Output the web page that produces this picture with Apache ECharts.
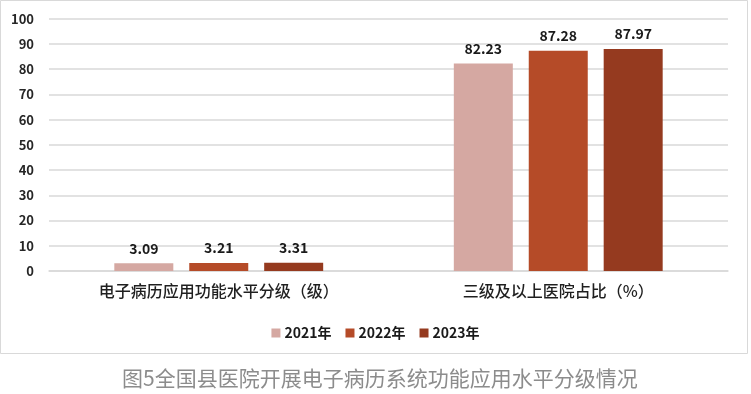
<!DOCTYPE html>
<html>
<head>
<meta charset="utf-8">
<script src="https://cdn.jsdelivr.net/npm/echarts@6/dist/echarts.min.js"></script>
<style>
html,body{margin:0;padding:0;background:#fff;}
#c{width:751px;height:394px;}
</style>
</head>
<body>
<div id="c"></div>
<script>
const categories = ['电子病历应用功能水平分级（级）', '三级及以上医院占比（%）'];
const seriesNames = ['2021年', '2022年', '2023年'];
const values2021 = [3.09, 82.23];
const values2022 = [3.21, 87.28];
const values2023 = [3.31, 87.97];
const yTicks = [0, 10, 20, 30, 40, 50, 60, 70, 80, 90, 100];
const colors = ['#D5A8A2', '#B54B28', '#953A1F'];
const titleText = '图5全国县医院开展电子病历系统功能应用水平分级情况';

const FONT = '"Noto Sans CJK SC", "Noto Sans", sans-serif';
const chart = echarts.init(document.getElementById('c'), null, {renderer: 'canvas'});
const allValues = [values2021, values2022, values2023];

chart.setOption({
  animation: false,
  backgroundColor: '#ffffff',
  textStyle: {fontFamily: FONT},
  title: {
    text: titleText,
    left: 122,
    top: 366,
    padding: 0,
    textStyle: {fontFamily: FONT, fontSize: 21, fontWeight: 'normal', color: '#8c8c8c', lineHeight: 24}
  },
  graphic: [{
    type: 'rect',
    shape: {x: 0.5, y: 0.5, width: 747, height: 353},
    style: {fill: 'none', stroke: '#d9d9d9', lineWidth: 1},
    silent: true,
    z: -1
  }],
  legend: {
    data: seriesNames,
    top: 319,
    left: 'center',
    itemWidth: 9,
    itemHeight: 9,
    itemGap: 14,
    icon: 'rect',
    textStyle: {fontFamily: FONT, fontSize: 14, fontWeight: 'bold', color: '#1a1a1a', lineHeight: 18, padding: [0, 0, 0, -1]}
  },
  grid: {left: 49, right: 23, top: 18.7, bottom: 123, containLabel: false},
  xAxis: {
    type: 'category',
    data: categories,
    axisLine: {lineStyle: {color: '#d9d9d9', width: 1.5}},
    axisTick: {show: false},
    axisLabel: {fontFamily: FONT, fontSize: 16, fontWeight: 500, color: '#1f1f1f', margin: 12}
  },
  yAxis: {
    type: 'value',
    min: yTicks[0],
    max: yTicks[yTicks.length - 1],
    interval: yTicks[1] - yTicks[0],
    axisLine: {show: false},
    axisTick: {show: false},
    splitLine: {lineStyle: {color: '#d9d9d9', width: 1.5}},
    axisLabel: {fontFamily: FONT, fontSize: 13, fontWeight: 'bold', color: '#262626', margin: 15}
  },
  series: seriesNames.map((name, i) => ({
    name: name,
    type: 'bar',
    data: allValues[i],
    barWidth: 59,
    barGap: '27%',
    itemStyle: {color: colors[i]},
    label: {
      show: true,
      position: 'top',
      distance: 8,
      fontFamily: FONT,
      fontSize: 14,
      fontWeight: 'bold',
      color: '#1a1a1a',
      formatter: p => p.value.toFixed(2)
    }
  }))
});
</script>
</body>
</html>
